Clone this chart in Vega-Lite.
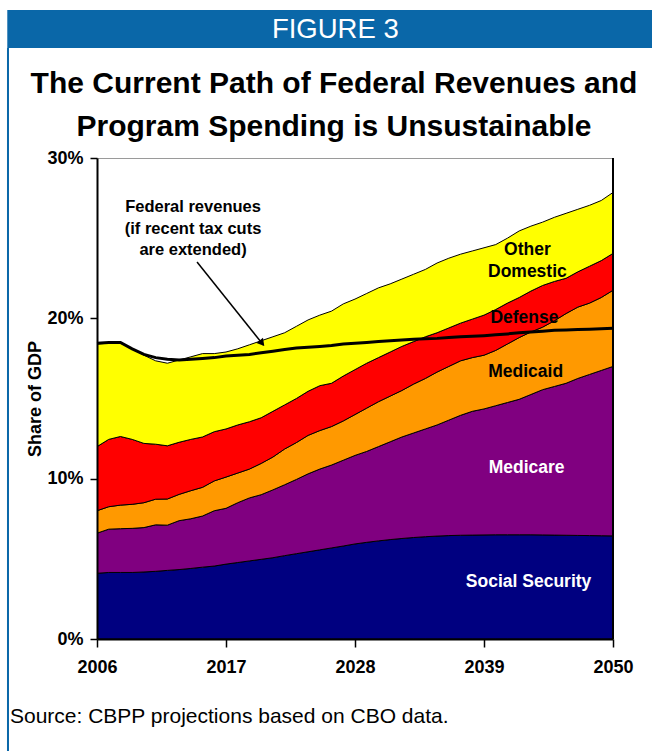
{
  "$schema": "https://vega.github.io/schema/vega-lite/v6.json",
  "width": 516,
  "height": 481,
  "autosize": {"type": "none"},
  "padding": {"left": 97, "top": 158, "right": 39, "bottom": 112},
  "background": "white",
  "config": {"view": {"stroke": "#9a9a9a", "strokeWidth": 1}, "font": "Liberation Sans"},
  "datasets": {
    "programs": [
      {"program": "ss", "stack_order": 1},
      {"program": "medicare", "stack_order": 2},
      {"program": "medicaid", "stack_order": 3},
      {"program": "defense", "stack_order": 4},
      {"program": "other", "stack_order": 5}
    ]
  },
  "data": {"values": [
    {"year": 2006, "ss": 4.1, "medicare": 2.5, "medicaid": 1.4, "defense": 4.0, "other": 6.4, "revenue": 18.45},
    {"year": 2007, "ss": 4.15, "medicare": 2.7, "medicaid": 1.4, "defense": 4.2, "other": 6.0, "revenue": 18.5},
    {"year": 2008, "ss": 4.15, "medicare": 2.73, "medicaid": 1.47, "defense": 4.28, "other": 5.82, "revenue": 18.5},
    {"year": 2009, "ss": 4.15, "medicare": 2.75, "medicaid": 1.5, "defense": 4.05, "other": 5.65, "revenue": 18.1},
    {"year": 2010, "ss": 4.18, "medicare": 2.77, "medicaid": 1.55, "defense": 3.7, "other": 5.5, "revenue": 17.75},
    {"year": 2011, "ss": 4.22, "medicare": 2.9, "medicaid": 1.6, "defense": 3.43, "other": 5.2, "revenue": 17.55},
    {"year": 2012, "ss": 4.28, "medicare": 2.82, "medicaid": 1.63, "defense": 3.32, "other": 5.15, "revenue": 17.45},
    {"year": 2013, "ss": 4.33, "medicare": 3.05, "medicaid": 1.64, "defense": 3.25, "other": 5.13, "revenue": 17.4},
    {"year": 2014, "ss": 4.4, "medicare": 3.1, "medicaid": 1.75, "defense": 3.2, "other": 5.15, "revenue": 17.45},
    {"year": 2015, "ss": 4.48, "medicare": 3.19, "medicaid": 1.79, "defense": 3.14, "other": 5.2, "revenue": 17.5},
    {"year": 2016, "ss": 4.55, "medicare": 3.45, "medicaid": 1.86, "defense": 3.07, "other": 4.87, "revenue": 17.55},
    {"year": 2017, "ss": 4.67, "medicare": 3.48, "medicaid": 1.95, "defense": 3.0, "other": 4.8, "revenue": 17.65},
    {"year": 2018, "ss": 4.77, "medicare": 3.73, "medicaid": 1.85, "defense": 3.0, "other": 4.75, "revenue": 17.7},
    {"year": 2019, "ss": 4.87, "medicare": 3.93, "medicaid": 1.8, "defense": 2.95, "other": 4.8, "revenue": 17.75},
    {"year": 2020, "ss": 4.97, "medicare": 4.03, "medicaid": 1.95, "defense": 2.85, "other": 4.8, "revenue": 17.85},
    {"year": 2021, "ss": 5.07, "medicare": 4.23, "medicaid": 2.05, "defense": 2.85, "other": 4.65, "revenue": 17.95},
    {"year": 2022, "ss": 5.2, "medicare": 4.42, "medicaid": 2.23, "defense": 2.75, "other": 4.5, "revenue": 18.05},
    {"year": 2023, "ss": 5.32, "medicare": 4.63, "medicaid": 2.3, "defense": 2.75, "other": 4.5, "revenue": 18.15},
    {"year": 2024, "ss": 5.44, "medicare": 4.86, "medicaid": 2.4, "defense": 2.75, "other": 4.45, "revenue": 18.2},
    {"year": 2025, "ss": 5.56, "medicare": 5.04, "medicaid": 2.4, "defense": 2.8, "other": 4.4, "revenue": 18.25},
    {"year": 2026, "ss": 5.68, "medicare": 5.17, "medicaid": 2.4, "defense": 2.7, "other": 4.5, "revenue": 18.3},
    {"year": 2027, "ss": 5.8, "medicare": 5.35, "medicaid": 2.45, "defense": 2.8, "other": 4.5, "revenue": 18.4},
    {"year": 2028, "ss": 5.93, "medicare": 5.52, "medicaid": 2.55, "defense": 2.8, "other": 4.4, "revenue": 18.45},
    {"year": 2029, "ss": 6.03, "medicare": 5.67, "medicaid": 2.7, "defense": 2.8, "other": 4.35, "revenue": 18.5},
    {"year": 2030, "ss": 6.12, "medicare": 5.88, "medicaid": 2.8, "defense": 2.75, "other": 4.35, "revenue": 18.55},
    {"year": 2031, "ss": 6.2, "medicare": 6.1, "medicaid": 2.85, "defense": 2.75, "other": 4.25, "revenue": 18.6},
    {"year": 2032, "ss": 6.27, "medicare": 6.33, "medicaid": 2.9, "defense": 2.75, "other": 4.2, "revenue": 18.65},
    {"year": 2033, "ss": 6.33, "medicare": 6.52, "medicaid": 3.05, "defense": 2.65, "other": 4.2, "revenue": 18.7},
    {"year": 2034, "ss": 6.38, "medicare": 6.72, "medicaid": 3.15, "defense": 2.6, "other": 4.2, "revenue": 18.72},
    {"year": 2035, "ss": 6.42, "medicare": 6.93, "medicaid": 3.3, "defense": 2.45, "other": 4.35, "revenue": 18.75},
    {"year": 2036, "ss": 6.45, "medicare": 7.2, "medicaid": 3.35, "defense": 2.4, "other": 4.35, "revenue": 18.8},
    {"year": 2037, "ss": 6.47, "medicare": 7.48, "medicaid": 3.4, "defense": 2.35, "other": 4.3, "revenue": 18.85},
    {"year": 2038, "ss": 6.48, "medicare": 7.72, "medicaid": 3.35, "defense": 2.4, "other": 4.25, "revenue": 18.88},
    {"year": 2039, "ss": 6.49, "medicare": 7.86, "medicaid": 3.35, "defense": 2.5, "other": 4.2, "revenue": 18.92},
    {"year": 2040, "ss": 6.5, "medicare": 8.05, "medicaid": 3.45, "defense": 2.55, "other": 4.05, "revenue": 18.97},
    {"year": 2041, "ss": 6.5, "medicare": 8.25, "medicaid": 3.65, "defense": 2.55, "other": 4.05, "revenue": 19.03},
    {"year": 2042, "ss": 6.5, "medicare": 8.45, "medicaid": 3.85, "defense": 2.5, "other": 4.15, "revenue": 19.1},
    {"year": 2043, "ss": 6.5, "medicare": 8.75, "medicaid": 3.9, "defense": 2.55, "other": 4.05, "revenue": 19.15},
    {"year": 2044, "ss": 6.49, "medicare": 9.06, "medicaid": 3.9, "defense": 2.6, "other": 3.95, "revenue": 19.2},
    {"year": 2045, "ss": 6.48, "medicare": 9.27, "medicaid": 4.1, "defense": 2.45, "other": 4.0, "revenue": 19.25},
    {"year": 2046, "ss": 6.47, "medicare": 9.48, "medicaid": 4.35, "defense": 2.2, "other": 4.05, "revenue": 19.28},
    {"year": 2047, "ss": 6.46, "medicare": 9.79, "medicaid": 4.45, "defense": 2.2, "other": 3.9, "revenue": 19.3},
    {"year": 2048, "ss": 6.45, "medicare": 10.05, "medicaid": 4.45, "defense": 2.3, "other": 3.8, "revenue": 19.32},
    {"year": 2049, "ss": 6.44, "medicare": 10.31, "medicaid": 4.55, "defense": 2.3, "other": 3.75, "revenue": 19.35},
    {"year": 2050, "ss": 6.43, "medicare": 10.57, "medicaid": 4.75, "defense": 2.3, "other": 3.8, "revenue": 19.38}
  ]},
  "layer": [
    {
      "transform": [
        {"fold": ["ss", "medicare", "medicaid", "defense", "other"], "as": ["program", "share"]},
        {"lookup": "program", "from": {"data": {"name": "programs"}, "key": "program", "fields": ["stack_order"]}}
      ],
      "mark": {"type": "area", "stroke": "black", "strokeWidth": 1, "clip": true},
      "encoding": {
        "x": {"field": "year", "type": "quantitative",
              "scale": {"domain": [2006, 2050], "nice": false, "zero": false},
              "axis": {"values": [2006, 2017, 2028, 2039, 2050], "format": "d", "title": null, "grid": false,
                       "labelFont": "Liberation Sans", "labelFontSize": 18, "labelFontWeight": "bold", "labelColor": "black",
                       "labelPadding": 11, "labelFlush": false, "labelOverlap": false, "labelBound": false,
                       "tickSize": 8, "tickColor": "black", "tickWidth": 1.5,
                       "domainColor": "black", "domainWidth": 2, "zindex": 1}},
        "y": {"field": "share", "type": "quantitative", "stack": "zero",
              "scale": {"domain": [0, 30], "nice": false},
              "axis": {"values": [0, 10, 20, 30], "labelExpr": "datum.value + '%'", "grid": false,
                       "labelFont": "Liberation Sans", "labelFontSize": 18, "labelFontWeight": "bold", "labelColor": "black",
                       "labelPadding": 7, "labelFlush": false, "labelOverlap": false,
                       "tickSize": 7, "tickColor": "black", "tickWidth": 1.5,
                       "domainColor": "black", "domainWidth": 2, "zindex": 1,
                       "title": "Share of GDP", "titleFont": "Liberation Sans", "titleFontSize": 18, "titleFontWeight": "bold",
                       "titleColor": "black", "titlePadding": 2}},
        "color": {"field": "program", "type": "nominal",
                  "scale": {"domain": ["ss", "medicare", "medicaid", "defense", "other"],
                            "range": ["#000080", "#800080", "#FF9900", "#FF0000", "#FFFF00"]},
                  "legend": null},
        "order": {"field": "stack_order", "type": "quantitative", "sort": "ascending"}
      }
    },
    {
      "mark": {"type": "line", "color": "black", "strokeWidth": 3},
      "encoding": {
        "x": {"field": "year", "type": "quantitative"},
        "y": {"field": "revenue", "type": "quantitative"}
      }
    },
    {
      "data": {"values": [{}]},
      "mark": {"type": "rule", "color": "black", "strokeWidth": 2},
      "encoding": {
        "x": {"datum": 2050, "type": "quantitative"},
        "y": {"datum": 0, "type": "quantitative"},
        "y2": {"datum": 30}
      }
    },
    {
      "data": {"values": [{}]},
      "mark": {"type": "rect", "color": "#0A67A8"},
      "encoding": {
        "x": {"datum": 1998.35, "type": "quantitative"},
        "x2": {"datum": 2054},
        "y": {"datum": 39.23, "type": "quantitative"},
        "y2": {"datum": 36.86}
      }
    },
    {
      "data": {"values": [{}]},
      "mark": {"type": "rule", "color": "#0A67A8", "strokeWidth": 2},
      "encoding": {
        "x": {"datum": 1998.41, "type": "quantitative"},
        "y": {"datum": 36.86, "type": "quantitative"},
        "y2": {"datum": -7.5}
      }
    },
    {
      "data": {"values": [{}]},
      "mark": {"type": "text", "text": "FIGURE 3", "color": "white", "font": "Liberation Sans", "fontSize": 27.5,
               "align": "center", "baseline": "alphabetic"},
      "encoding": {
        "x": {"datum": 2026.32, "type": "quantitative"},
        "y": {"datum": 37.5, "type": "quantitative"}
      }
    },
    {
      "data": {"values": [{}]},
      "mark": {"type": "text", "text": ["The Current Path of Federal Revenues and", "Program Spending is Unsustainable"],
               "color": "black", "font": "Liberation Sans", "fontSize": 30, "fontWeight": "bold",
               "lineHeight": 43, "align": "center", "baseline": "alphabetic"},
      "encoding": {
        "x": {"datum": 2026.21, "type": "quantitative"},
        "y": {"datum": 34.05, "type": "quantitative"}
      }
    },
    {
      "data": {"values": [{}]},
      "mark": {"type": "text", "text": "Source: CBPP projections based on CBO data.", "color": "black",
               "font": "Liberation Sans", "fontSize": 21, "align": "left", "baseline": "alphabetic"},
      "encoding": {
        "x": {"datum": 1998.58, "type": "quantitative"},
        "y": {"datum": -5.24, "type": "quantitative"}
      }
    },
    {
      "data": {"values": [{}]},
      "mark": {"type": "text", "text": ["Federal revenues", "(if recent tax cuts", "are extended)"], "color": "black",
               "font": "Liberation Sans", "fontSize": 16.5, "fontWeight": "bold", "lineHeight": 21.5,
               "align": "center", "baseline": "alphabetic"},
      "encoding": {
        "x": {"datum": 2014.19, "type": "quantitative"},
        "y": {"datum": 26.63, "type": "quantitative"}
      }
    },
    {
      "data": {"values": [{}]},
      "mark": {"type": "rule", "color": "black", "strokeWidth": 1.5},
      "encoding": {
        "x": {"datum": 2014.53, "type": "quantitative"},
        "y": {"datum": 23.51, "type": "quantitative"},
        "x2": {"datum": 2020.2},
        "y2": {"datum": 18.33}
      }
    },
    {
      "data": {"values": [{}]},
      "mark": {"type": "point", "shape": "triangle-up", "angle": 141, "size": 70, "filled": true, "color": "black", "opacity": 1},
      "encoding": {
        "x": {"datum": 2020.07, "type": "quantitative"},
        "y": {"datum": 18.45, "type": "quantitative"}
      }
    },
    {
      "data": {"values": [{}]},
      "mark": {"type": "text", "text": ["Other", "Domestic"], "color": "black", "font": "Liberation Sans", "fontSize": 17.5,
               "fontWeight": "bold", "lineHeight": 21.5, "align": "center", "baseline": "alphabetic"},
      "encoding": {
        "x": {"datum": 2042.7, "type": "quantitative"},
        "y": {"datum": 23.95, "type": "quantitative"}
      }
    },
    {
      "data": {"values": [{}]},
      "mark": {"type": "text", "text": "Defense", "color": "black", "font": "Liberation Sans", "fontSize": 17.5,
               "fontWeight": "bold", "align": "center", "baseline": "alphabetic"},
      "encoding": {
        "x": {"datum": 2042.45, "type": "quantitative"},
        "y": {"datum": 19.69, "type": "quantitative"}
      }
    },
    {
      "data": {"values": [{}]},
      "mark": {"type": "text", "text": "Medicaid", "color": "black", "font": "Liberation Sans", "fontSize": 17.5,
               "fontWeight": "bold", "align": "center", "baseline": "alphabetic"},
      "encoding": {
        "x": {"datum": 2042.55, "type": "quantitative"},
        "y": {"datum": 16.36, "type": "quantitative"}
      }
    },
    {
      "data": {"values": [{}]},
      "mark": {"type": "text", "text": "Medicare", "color": "white", "font": "Liberation Sans", "fontSize": 17.5,
               "fontWeight": "bold", "align": "center", "baseline": "alphabetic"},
      "encoding": {
        "x": {"datum": 2042.63, "type": "quantitative"},
        "y": {"datum": 10.35, "type": "quantitative"}
      }
    },
    {
      "data": {"values": [{}]},
      "mark": {"type": "text", "text": "Social Security", "color": "white", "font": "Liberation Sans", "fontSize": 17.5,
               "fontWeight": "bold", "align": "center", "baseline": "alphabetic"},
      "encoding": {
        "x": {"datum": 2042.8, "type": "quantitative"},
        "y": {"datum": 3.25, "type": "quantitative"}
      }
    }
  ]
}
